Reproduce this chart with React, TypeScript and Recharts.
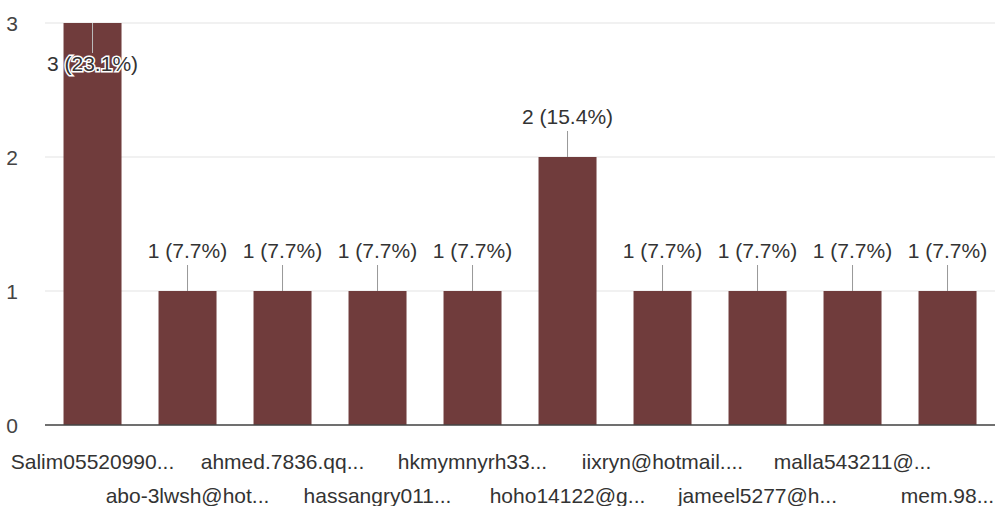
import { Bar, BarChart, CartesianGrid, LabelList, XAxis, YAxis, ReferenceLine } from "recharts";

// responders (labels as truncated in the chart)
const names = [
  "Salim05520990...",
  "abo-3lwsh@hot...",
  "ahmed.7836.qq...",
  "hassangry011...",
  "hkmymnyrh33...",
  "hoho14122@g...",
  "iixryn@hotmail....",
  "jameel5277@h...",
  "malla543211@...",
  "mem.98...",
];
const counts = [3, 1, 1, 1, 1, 2, 1, 1, 1, 1];
const yTicks = [0, 1, 2, 3];

const total = counts.reduce((a, b) => a + b, 0);
const data = names.map((name, i) => ({ name, count: counts[i] }));

const FONT = "'Liberation Sans', Arial, sans-serif";

function XTick(props: any) {
  const { x, y, payload, index } = props;
  const dy = index % 2 === 0 ? 36 : 70;
  return (
    <text x={x} y={y + dy} textAnchor="middle" fontSize={21} fill="#333" fontFamily={FONT}>
      {payload.value}
    </text>
  );
}

function YTick(props: any) {
  const { y, payload } = props;
  return (
    <text x={12} y={y + 8} textAnchor="middle" fontSize={21} fill="#444" fontFamily={FONT}>
      {payload.value}
    </text>
  );
}

function ValueLabel(props: any) {
  const { x, y, width, value } = props;
  const cx = x + width / 2;
  const pct = ((value / total) * 100).toFixed(1);
  const text = `${value} (${pct}%)`;
  const inside = value >= 3;
  const ty = inside ? y + 48 : y - 33;
  return (
    <g>
      {inside ? (
        <line x1={cx} x2={cx} y1={y} y2={y + 30} stroke="#bbb" strokeWidth={1} />
      ) : (
        <line x1={cx} x2={cx} y1={y - 26} y2={y} stroke="#999" strokeWidth={1} />
      )}
      <text
        x={cx}
        y={ty}
        textAnchor="middle"
        fontSize={21}
        fill="#333"
        fontFamily={FONT}
        stroke={inside ? "#fff" : "none"}
        strokeWidth={inside ? 3 : 0}
        paintOrder="stroke"
      >
        {text}
      </text>
    </g>
  );
}

export default function App() {
  return (
    <div style={{ position: "absolute", left: 0, top: 0, background: "#fff" }}>
      <BarChart
        width={1003}
        height={506}
        data={data}
        margin={{ top: 23, right: 8, left: 5, bottom: 0 }}
        barCategoryGap="19.5%"
      >
        <CartesianGrid vertical={false} stroke="#e3e3e3" />
        <XAxis
          dataKey="name"
          interval={0}
          tick={<XTick />}
          tickLine={false}
          axisLine={false}
          height={81}
        />
        <YAxis
          width={40}
          domain={[0, 3]}
          ticks={yTicks}
          tick={<YTick />}
          tickLine={false}
          axisLine={false}
        />
        <Bar dataKey="count" fill="#703c3c" isAnimationActive={false}>
          <LabelList dataKey="count" content={<ValueLabel />} />
        </Bar>
        <ReferenceLine y={0} stroke="#444" strokeWidth={1.5} />
      </BarChart>
    </div>
  );
}
